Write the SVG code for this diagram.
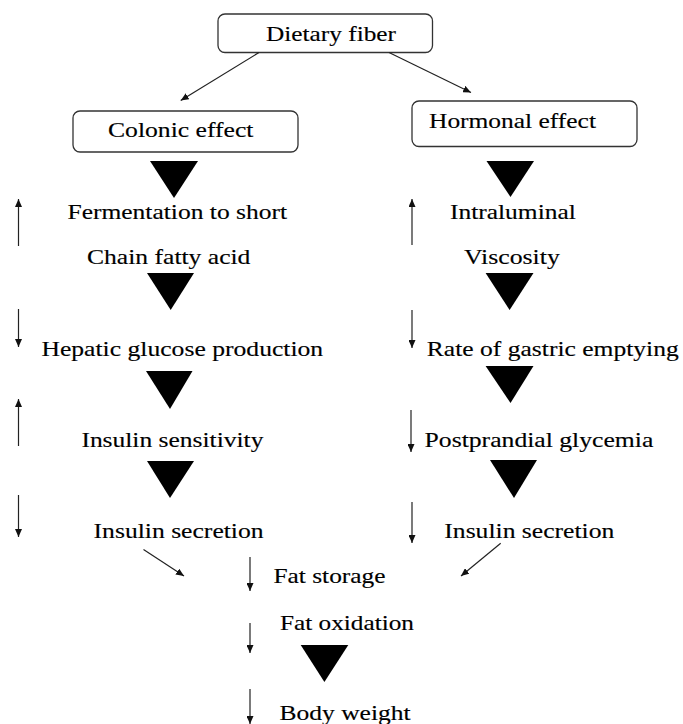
<svg xmlns="http://www.w3.org/2000/svg" width="683" height="724" viewBox="0 0 683 724">
<defs>
<style>
.box{fill:#fff;stroke:#333;stroke-width:1.3}
.t{font-family:"Liberation Serif","Times New Roman",serif;font-size:21.5px;fill:#000;stroke:#000;stroke-width:0.15}
.c{stroke:#222;stroke-width:1.2;fill:none;marker-end:url(#ah)}
.tri{fill:#000}
</style>
<marker id="ah" viewBox="0 0 8 7" refX="8" refY="3.5" markerWidth="8" markerHeight="7" markerUnits="userSpaceOnUse" orient="auto">
<path d="M0,0 L8,3.5 L0,7 z" fill="#111"/>
</marker>
</defs>
<rect width="683" height="724" fill="#fff"/>

<g id="dietary-fiber">
<rect class="box" x="218" y="14" width="214.5" height="38.5" rx="7"/>
<text class="t" x="266" y="41" textLength="130" lengthAdjust="spacingAndGlyphs">Dietary fiber</text>
</g>
<g id="colonic-effect">
<rect class="box" x="73" y="111" width="225" height="41" rx="7"/>
<text class="t" x="108" y="137" textLength="145.5" lengthAdjust="spacingAndGlyphs">Colonic effect</text>
</g>
<g id="hormonal-effect">
<rect class="box" x="412" y="101" width="225" height="45.5" rx="7"/>
<text class="t" x="429" y="128" textLength="167" lengthAdjust="spacingAndGlyphs">Hormonal effect</text>
</g>

<g id="fermentation">
<text class="t" x="67.5" y="219" textLength="219.5" lengthAdjust="spacingAndGlyphs">Fermentation to short</text>
<text class="t" x="87" y="264" textLength="163.4" lengthAdjust="spacingAndGlyphs">Chain fatty acid</text>
</g>
<g id="intraluminal">
<text class="t" x="450" y="219" textLength="125.8" lengthAdjust="spacingAndGlyphs">Intraluminal</text>
<text class="t" x="464" y="264" textLength="95.8" lengthAdjust="spacingAndGlyphs">Viscosity</text>
</g>
<g id="hepatic">
<text class="t" x="41.4" y="356" textLength="281.8" lengthAdjust="spacingAndGlyphs">Hepatic glucose production</text>
</g>
<g id="gastric">
<text class="t" x="426.8" y="356" textLength="252" lengthAdjust="spacingAndGlyphs">Rate of gastric emptying</text>
</g>
<g id="sensitivity">
<text class="t" x="81.4" y="447" textLength="182" lengthAdjust="spacingAndGlyphs">Insulin sensitivity</text>
</g>
<g id="glycemia">
<text class="t" x="424.6" y="447" textLength="228.7" lengthAdjust="spacingAndGlyphs">Postprandial glycemia</text>
</g>
<g id="secretion-left">
<text class="t" x="93.6" y="538" textLength="170" lengthAdjust="spacingAndGlyphs">Insulin secretion</text>
</g>
<g id="secretion-right">
<text class="t" x="444.3" y="538" textLength="170" lengthAdjust="spacingAndGlyphs">Insulin secretion</text>
</g>
<g id="fat-storage">
<text class="t" x="273.5" y="583" textLength="112" lengthAdjust="spacingAndGlyphs">Fat storage</text>
</g>
<g id="fat-oxidation">
<text class="t" x="280" y="630" textLength="134" lengthAdjust="spacingAndGlyphs">Fat oxidation</text>
</g>
<g id="body-weight">
<text class="t" x="279.6" y="720" textLength="131" lengthAdjust="spacingAndGlyphs">Body weight</text>
</g>

<g id="triangles">
<polygon class="tri" points="150,161 198,161 174,198"/>
<polygon class="tri" points="486.5,161 534,161 510.5,197"/>
<polygon class="tri" points="147,273 194,273 170.7,310"/>
<polygon class="tri" points="485.6,273 533.5,273 509.6,310"/>
<polygon class="tri" points="146,371 192.5,371 170,409"/>
<polygon class="tri" points="485.6,366 533.5,366 510.5,403"/>
<polygon class="tri" points="147,461 194,461 170,498"/>
<polygon class="tri" points="490,460 537,460 514,498"/>
<polygon class="tri" points="300.7,645 348.3,645 324.4,682"/>
</g>

<g id="connectors">
<line class="c" x1="259" y1="52.5" x2="180.7" y2="100.5"/>
<line class="c" x1="389" y1="52.5" x2="471" y2="92.5"/>
<line class="c" x1="18.5" y1="246" x2="18.5" y2="199"/>
<line class="c" x1="18.5" y1="309" x2="18.5" y2="347"/>
<line class="c" x1="18.5" y1="446" x2="18.5" y2="399"/>
<line class="c" x1="18.5" y1="495" x2="18.5" y2="537"/>
<line class="c" x1="412" y1="245" x2="412" y2="199"/>
<line class="c" x1="412" y1="310" x2="412" y2="348"/>
<line class="c" x1="411" y1="410" x2="411" y2="452"/>
<line class="c" x1="412" y1="502" x2="412" y2="543"/>
<line class="c" x1="143.5" y1="549.5" x2="184" y2="576"/>
<line class="c" x1="500.7" y1="543.3" x2="461" y2="576"/>
<line class="c" x1="250" y1="557" x2="250" y2="591"/>
<line class="c" x1="250" y1="623" x2="250" y2="653"/>
<line class="c" x1="250" y1="689" x2="250" y2="724"/>
</g>
</svg>
